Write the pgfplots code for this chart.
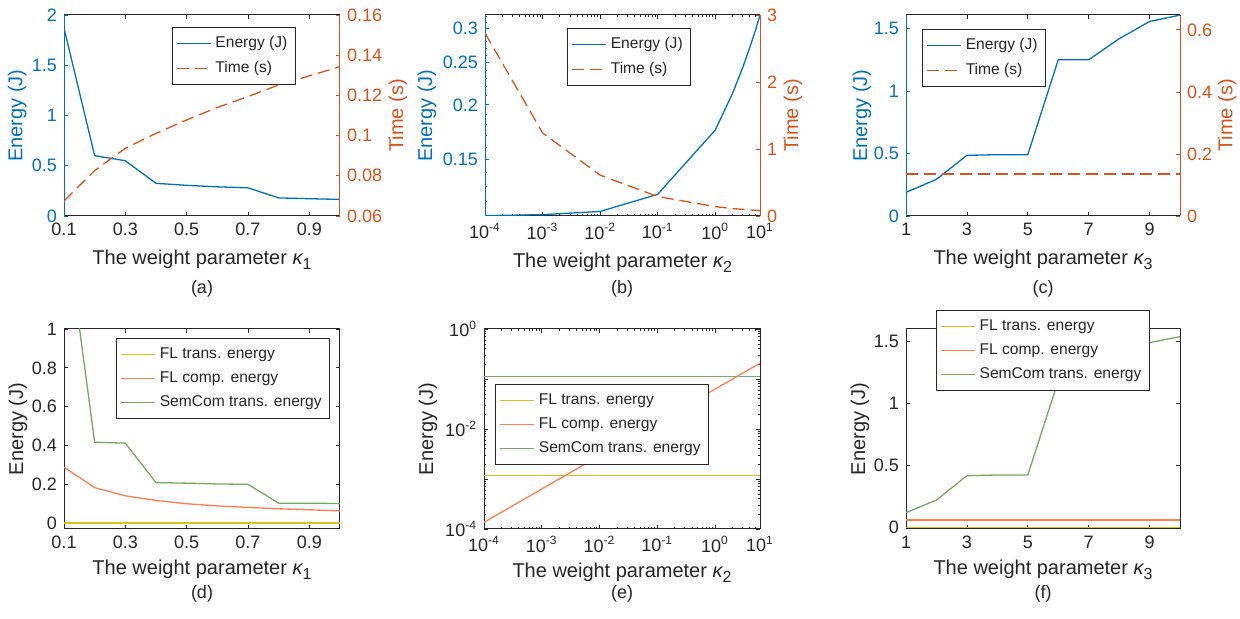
\documentclass[border=0pt]{standalone}
\usepackage{fontspec}
\setmainfont{Liberation Sans}
\usepackage{pgfplots}
\pgfplotsset{compat=1.18}

\definecolor{mblue}{rgb}{0,0.447,0.741}
\definecolor{morange}{rgb}{0.85,0.325,0.098}
\definecolor{mgray}{rgb}{0.15,0.15,0.15}
\definecolor{cyel}{RGB}{215,195,25}
\definecolor{cora}{RGB}{255,125,80}
\definecolor{cgrn}{RGB}{120,168,95}

\newcommand{\kap}[1]{{\itshape κ}\raisebox{-0.5ex}{\fontsize{8}{8}\selectfont #1}}

\pgfplotsset{
  base/.style={
    scale only axis, anchor=south west,
    tick align=inside,
    major tick length=2pt, minor tick length=1.2pt,
    every tick/.style={mgray, line width=0.4pt},
    axis line style={mgray, line width=0.5pt},
    tick label style={font=\fontsize{9}{10}\selectfont, text=mgray},
    label style={font=\fontsize{10}{11}\selectfont, text=mgray},
    /pgf/number format/assume math mode=true,
    scaled ticks=false,
    legend style={font=\fontsize{7.8}{9.4}\selectfont, draw=mgray, line width=0.4pt,
      fill=white, inner xsep=2pt, inner ysep=2.5pt, row sep=1.2pt, text=mgray},
    legend cell align=left,
    every axis plot/.append style={line width=0.65pt},
  },
  ylab/.style={ylabel style={at={(axis description cs:#1,0.5)}, anchor=center}},
  timeline/.style={morange, line width=0.65pt, dash pattern=on 6pt off 3pt},
  logx/.style={
    xmin=1e-4, xmax=6,
    xtick={1e-4,1e-3,1e-2,1e-1,1,6},
    xticklabels={10\textsuperscript{-4},10\textsuperscript{-3},10\textsuperscript{-2},10\textsuperscript{-1},10\textsuperscript{0},10\textsuperscript{1}},
    minor xtick={2e-4,3e-4,4e-4,5e-4,6e-4,7e-4,8e-4,9e-4,
      2e-3,3e-3,4e-3,5e-3,6e-3,7e-3,8e-3,9e-3,
      2e-2,3e-2,4e-2,5e-2,6e-2,7e-2,8e-2,9e-2,
      0.2,0.3,0.4,0.5,0.6,0.7,0.8,0.9,2,3,4,5},
  },
}

\begin{document}
\begin{tikzpicture}
\path[use as bounding box] (0,0) rectangle (620pt,309.5pt);

% ---------------- (a) ----------------
\begin{axis}[base, at={(32pt,201.5pt)}, width=138pt, height=100.5pt,
  xmin=0.1, xmax=1, ymin=0, ymax=2,
  xtick={0.1,0.3,0.5,0.7,0.9}, ytick={0,0.5,1,1.5,2},
  axis x line*=box, axis y line*=left,
  y axis line style={mblue},
  every y tick/.append style={mblue},
  yticklabel style={text=mblue},
  ylabel={Energy (J)}, ylab=-0.17, ylabel style={text=mblue},
  xlabel={The weight parameter \kap{1}}]
\addplot[mblue] coordinates {(0.1,1.87)(0.2,0.60)(0.3,0.55)(0.4,0.325)(0.5,0.305)
  (0.6,0.29)(0.7,0.28)(0.8,0.18)(0.9,0.172)(1.0,0.165)};
\end{axis}
\begin{axis}[base, at={(32pt,201.5pt)}, width=138pt, height=100.5pt,
  xmin=0.1, xmax=1, ymin=0.06, ymax=0.16,
  ytick={0.06,0.08,0.1,0.12,0.14,0.16},
  yticklabels={0.06,0.08,0.1,0.12,0.14,0.16},
  axis x line=none, axis y line*=right,
  y axis line style={morange},
  every y tick/.append style={morange},
  yticklabel style={text=morange},
  ylabel={Time (s)}, ylab=1.21, ylabel style={text=morange},
  legend style={at={(0.84,0.94)}, anchor=north east}]
\addlegendimage{mblue, line width=0.65pt}
\addlegendentry{Energy (J)}
\addplot[timeline] coordinates {(0.1,0.0675)(0.2,0.0826)(0.3,0.0937)(0.4,0.1011)(0.5,0.1078)
  (0.6,0.114)(0.7,0.1194)(0.8,0.1252)(0.9,0.1297)(1.0,0.1343)};
\addlegendentry{Time (s)}
\end{axis}
\node[font=\fontsize{9}{10}\selectfont, text=mgray] at (101pt,165pt) {(a)};

% ---------------- (b) ----------------
\begin{axis}[base, xmode=log, ymode=log, logx, at={(242.5pt,201.5pt)}, width=137.5pt, height=100.5pt,
  ymin=0.111, ymax=0.322,
  ytick={0.15,0.2,0.25,0.3}, yticklabels={0.15,0.2,0.25,0.3},
  minor ytick={0.12,0.13,0.14,0.16,0.17,0.18,0.19,0.21,0.22,0.23,0.24,0.26,0.27,0.28,0.29,0.31,0.32},
  axis x line*=box, axis y line*=left,
  y axis line style={mblue},
  every y tick/.append style={mblue},
  yticklabel style={text=mblue},
  ylabel={Energy (J)}, ylab=-0.211, ylabel style={text=mblue},
  xlabel={The weight parameter \kap{2}}]
\addplot[mblue] coordinates {(1e-4,0.1112)(1e-3,0.1118)(1e-2,0.1137)(0.1,0.1245)(1,0.175)
  (2,0.2126)(3,0.2435)(4,0.2714)(5,0.297)(6,0.322)};
\end{axis}
\begin{axis}[base, xmode=log, logx, at={(242.5pt,201.5pt)}, width=137.5pt, height=100.5pt,
  ymin=0, ymax=3, ytick={0,1,2,3},
  axis x line=none, axis y line*=right,
  y axis line style={morange},
  every y tick/.append style={morange},
  yticklabel style={text=morange},
  ylabel={Time (s)}, ylab=1.12, ylabel style={text=morange},
  legend style={at={(0.298,0.935)}, anchor=north west}]
\addlegendimage{mblue, line width=0.65pt}
\addlegendentry{Energy (J)}
\addplot[timeline] coordinates {(1e-4,2.73)(1e-3,1.24)(1e-2,0.61)(0.1,0.29)(1,0.14)
  (2,0.11)(3,0.1)(4,0.09)(5,0.085)(6,0.08)};
\addlegendentry{Time (s)}
\end{axis}
\node[font=\fontsize{9}{10}\selectfont, text=mgray] at (311pt,165pt) {(b)};

% ---------------- (c) ----------------
\begin{axis}[base, at={(453pt,201.5pt)}, width=137pt, height=100.5pt,
  xmin=1, xmax=10, ymin=0, ymax=1.607,
  xtick={1,3,5,7,9}, ytick={0,0.5,1,1.5},
  axis x line*=box, axis y line*=left,
  y axis line style={mblue},
  every y tick/.append style={mblue},
  yticklabel style={text=mblue},
  ylabel={Energy (J)}, ylab=-0.161, ylabel style={text=mblue},
  xlabel={The weight parameter \kap{3}}]
\addplot[mblue] coordinates {(1,0.189)(2,0.293)(3,0.485)(4,0.49)(5,0.49)(6,1.249)(7,1.249)
  (8,1.417)(9,1.555)(10,1.606)};
\end{axis}
\begin{axis}[base, at={(453pt,201.5pt)}, width=137pt, height=100.5pt,
  xmin=1, xmax=10, ymin=0, ymax=0.648, ytick={0,0.2,0.4,0.6},
  axis x line=none, axis y line*=right,
  y axis line style={morange},
  every y tick/.append style={morange},
  yticklabel style={text=morange},
  ylabel={Time (s)}, ylab=1.172, ylabel style={text=morange},
  legend style={at={(0.058,0.93)}, anchor=north west}]
\addlegendimage{mblue, line width=0.65pt}
\addlegendentry{Energy (J)}
\addplot[timeline] coordinates {(1,0.1355)(2,0.1355)(3,0.1355)(4,0.1355)(5,0.1355)
  (6,0.1355)(7,0.1355)(8,0.1355)(9,0.1355)(10,0.1355)};
\addlegendentry{Time (s)}
\end{axis}
\node[font=\fontsize{9}{10}\selectfont, text=mgray] at (521.5pt,165pt) {(c)};

% ---------------- (d) ----------------
\begin{axis}[base, at={(32pt,45pt)}, width=138pt, height=100pt,
  xmin=0.1, xmax=1, ymin=-0.03, ymax=1,
  xtick={0.1,0.3,0.5,0.7,0.9}, ytick={0,0.2,0.4,0.6,0.8,1},
  ylabel={Energy (J)}, ylab=-0.167, xlabel={The weight parameter \kap{1}},
  xlabel style={yshift=1.5pt},
  legend style={at={(0.964,0.955)}, anchor=north east}]
\addplot[cyel] coordinates {(0.1,0.001)(0.2,0.001)(0.3,0.001)(0.4,0.001)(0.5,0.001)
  (0.6,0.001)(0.7,0.001)(0.8,0.001)(0.9,0.001)(1.0,0.001)};
\addlegendentry{FL trans. energy}
\addplot[cora] coordinates {(0.1,0.288)(0.2,0.183)(0.3,0.141)(0.4,0.117)(0.5,0.1)
  (0.6,0.089)(0.7,0.081)(0.8,0.074)(0.9,0.069)(1.0,0.063)};
\addlegendentry{FL comp. energy}
\addplot[cgrn] coordinates {(0.1,1.6)(0.2,0.417)(0.3,0.412)(0.4,0.209)(0.5,0.206)
  (0.6,0.202)(0.7,0.2)(0.8,0.103)(0.9,0.103)(1.0,0.101)};
\addlegendentry{SemCom trans. energy}
\end{axis}
\node[font=\fontsize{9}{10}\selectfont, text=mgray] at (101pt,12.5pt) {(d)};

% ---------------- (e) ----------------
\begin{axis}[base, xmode=log, ymode=log, logx, at={(242pt,45pt)}, width=138pt, height=100pt,
  ymin=1e-4, ymax=1,
  ytick={1e-4,1e-3,1e-2,1e-1,1},
  yticklabels={10\textsuperscript{-4},,10\textsuperscript{-2},,10\textsuperscript{0}},
  minor ytick={2e-4,3e-4,4e-4,5e-4,6e-4,7e-4,8e-4,9e-4,
      2e-3,3e-3,4e-3,5e-3,6e-3,7e-3,8e-3,9e-3,
      2e-2,3e-2,4e-2,5e-2,6e-2,7e-2,8e-2,9e-2,
      0.2,0.3,0.4,0.5,0.6,0.7,0.8,0.9},
  ylabel={Energy (J)}, ylab=-0.203, xlabel={The weight parameter \kap{2}},
  xlabel style={yshift=1.5pt},
  legend style={at={(0.04,0.725)}, anchor=north west}]
\addplot[cyel] coordinates {(1e-4,0.00118)(1e-3,0.00118)(1e-2,0.00118)(0.1,0.00118)(1,0.00118)
  (2,0.00118)(3,0.00118)(4,0.00118)(5,0.00118)(6,0.00118)};
\addlegendentry{FL trans. energy}
\addplot[cora] coordinates {(1e-4,1.36e-4)(1e-3,6.3e-4)(1e-2,2.92e-3)(0.1,0.01355)(1,0.0628)
  (2,0.0995)(3,0.131)(4,0.158)(5,0.183)(6,0.206)};
\addlegendentry{FL comp. energy}
\addplot[cgrn] coordinates {(1e-4,0.111)(1e-3,0.111)(1e-2,0.111)(0.1,0.111)(1,0.111)
  (2,0.111)(3,0.111)(4,0.111)(5,0.111)(6,0.111)};
\addlegendentry{SemCom trans. energy}
\end{axis}
\node[font=\fontsize{9}{10}\selectfont, text=mgray] at (311pt,12.5pt) {(e)};

% ---------------- (f) ----------------
\begin{axis}[base, at={(453pt,45pt)}, width=137pt, height=100pt,
  xmin=1, xmax=10, ymin=-0.0105, ymax=1.602,
  xtick={1,3,5,7,9}, ytick={0,0.5,1,1.5},
  ylabel={Energy (J)}, ylab=-0.168, xlabel={The weight parameter \kap{3}},
  xlabel style={yshift=1.5pt},
  legend style={at={(0.89,1.095)}, anchor=north east}]
\addplot[cyel] coordinates {(1,0.001)(2,0.001)(3,0.001)(4,0.001)(5,0.001)
  (6,0.001)(7,0.001)(8,0.001)(9,0.001)(10,0.001)};
\addlegendentry{FL trans. energy}
\addplot[cora] coordinates {(1,0.062)(2,0.062)(3,0.062)(4,0.062)(5,0.062)
  (6,0.062)(7,0.062)(8,0.062)(9,0.062)(10,0.062)};
\addlegendentry{FL comp. energy}
\addplot[cgrn] coordinates {(1,0.121)(2,0.223)(3,0.419)(4,0.425)(5,0.425)(6,1.185)(7,1.185)
  (8,1.353)(9,1.492)(10,1.540)};
\addlegendentry{SemCom trans. energy}
\end{axis}
\node[font=\fontsize{9}{10}\selectfont, text=mgray] at (521.5pt,12.5pt) {(f)};

\end{tikzpicture}
\end{document}
